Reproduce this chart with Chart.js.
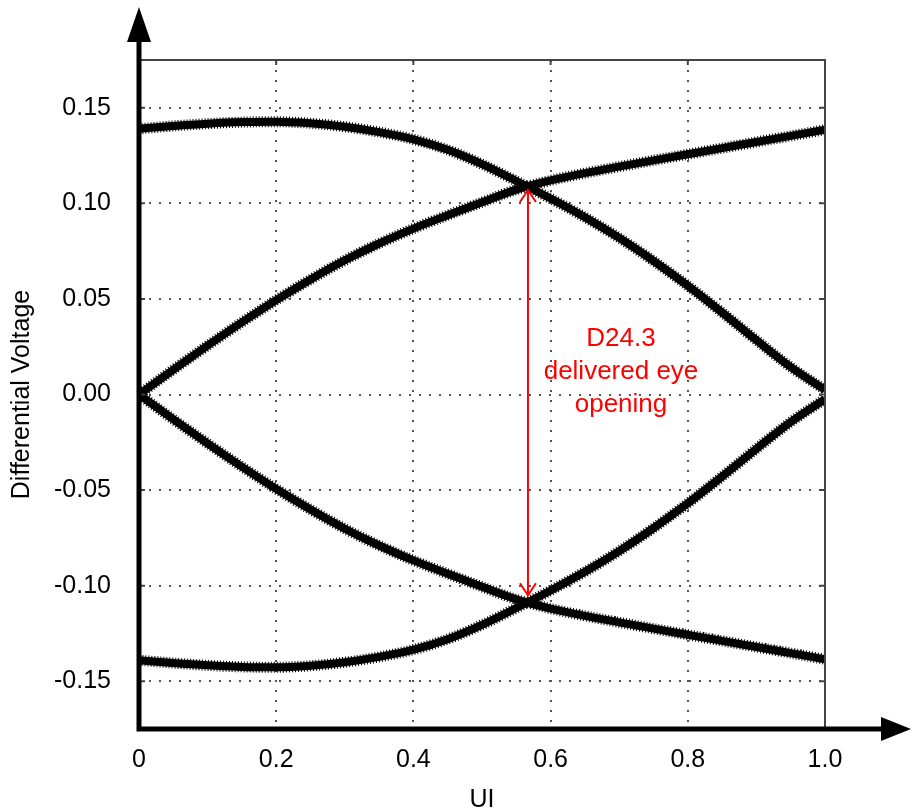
<!DOCTYPE html>
<html>
<head>
<meta charset="utf-8">
<script src="https://cdn.jsdelivr.net/npm/chart.js@4.4.1/dist/chart.umd.min.js"></script>
<style>
  html, body { margin: 0; padding: 0; background: #fff; }
  canvas { display: block; }
</style>
</head>
<body>
<canvas id="eyeChart" width="911" height="808"></canvas>
<script>
// sample positions along the unit interval
const uiSteps = [0, 0.05, 0.1, 0.15, 0.2, 0.25, 0.3, 0.35, 0.4, 0.45, 0.5,
                 0.55, 0.6, 0.65, 0.7, 0.75, 0.8, 0.85, 0.9, 0.95, 1.0];

// high level falling to zero
const traceHighFall = [0.1390, 0.1405, 0.1417, 0.1425, 0.1427, 0.1419, 0.1401, 0.1373, 0.1335, 0.1280, 0.1205,
                       0.1117, 0.1025, 0.0927, 0.0819, 0.0699, 0.0569, 0.0429, 0.0284, 0.0144, 0.0024];
// zero rising to high level
const traceZeroRise = [0.0000, 0.0130, 0.0256, 0.0378, 0.0494, 0.0602, 0.0702, 0.0790, 0.0868, 0.0938, 0.1006,
                       0.1072, 0.1120, 0.1158, 0.1192, 0.1225, 0.1257, 0.1289, 0.1321, 0.1353, 0.1385];
// zero falling to low level
const traceZeroFall = [0.0000, -0.0130, -0.0256, -0.0378, -0.0494, -0.0602, -0.0702, -0.0790, -0.0868, -0.0938, -0.1006,
                       -0.1072, -0.1120, -0.1158, -0.1192, -0.1225, -0.1257, -0.1289, -0.1321, -0.1353, -0.1385];
// low level rising to zero
const traceLowRise = [-0.1390, -0.1405, -0.1417, -0.1425, -0.1427, -0.1419, -0.1401, -0.1373, -0.1335, -0.1280, -0.1205,
                      -0.1117, -0.1025, -0.0927, -0.0819, -0.0699, -0.0569, -0.0429, -0.0284, -0.0144, -0.0024];

const xTicks = [0, 0.2, 0.4, 0.6, 0.8, 1.0];
const xTickLabels = ['0', '0.2', '0.4', '0.6', '0.8', '1.0'];
const yTicks = [-0.15, -0.10, -0.05, 0, 0.05, 0.10, 0.15];
const yTickLabels = ['-0.15', '-0.10', '-0.05', '0.00', '0.05', '0.10', '0.15'];

// eye opening marker
const eyeUI = 0.567;
const eyeTop = 0.107;
const eyeBottom = -0.105;
const eyeLabel = ['D24.3', 'delivered eye', 'opening'];

const FONT = 'Arial, "Liberation Sans", sans-serif';

function toPoints(values) {
    return values.map((v, i) => ({ x: uiSteps[i], y: v }));
}

// solid core of a trace
function traceDataset(values) {
    return {
        data: toPoints(values),
        borderColor: '#000',
        borderWidth: 8,
        pointRadius: 0,
        cubicInterpolationMode: 'monotone',
        fill: false,
        order: 1
    };
}

// stippled fringe around the same trace, gives the noisy edge
function fringeDataset(values) {
    return {
        data: toPoints(values),
        borderColor: '#000',
        borderWidth: 11,
        borderDash: [1, 2],
        pointRadius: 0,
        cubicInterpolationMode: 'monotone',
        fill: false,
        order: 2
    };
}

// frame, arrowed axes and eye annotation
const decorations = {
    id: 'decorations',
    afterDatasetsDraw(chart) {
        const { ctx, chartArea: a, scales: { x, y } } = chart;
        ctx.save();

        // thin frame on top and right
        ctx.strokeStyle = '#444';
        ctx.lineWidth = 2;
        ctx.beginPath();
        ctx.moveTo(a.left, a.top);
        ctx.lineTo(a.right, a.top);
        ctx.lineTo(a.right, a.bottom);
        ctx.stroke();

        // small inner ticks
        ctx.beginPath();
        xTicks.forEach(v => {
            const px = x.getPixelForValue(v);
            ctx.moveTo(px, a.top); ctx.lineTo(px, a.top + 5);
        });
        yTicks.forEach(v => {
            const py = y.getPixelForValue(v);
            ctx.moveTo(a.right, py); ctx.lineTo(a.right - 6, py);
            ctx.moveTo(a.left, py); ctx.lineTo(a.left + 6, py);
        });
        ctx.stroke();

        // thick axes with arrow heads
        ctx.strokeStyle = '#000';
        ctx.fillStyle = '#000';
        ctx.lineWidth = 5;
        ctx.beginPath();
        ctx.moveTo(a.left, a.bottom + 2.5);
        ctx.lineTo(a.left, 40);
        ctx.moveTo(a.left - 2.5, a.bottom);
        ctx.lineTo(884, a.bottom);
        ctx.stroke();

        ctx.beginPath();
        ctx.moveTo(a.left, 7);
        ctx.lineTo(a.left - 12, 42);
        ctx.lineTo(a.left + 12, 42);
        ctx.closePath();
        ctx.fill();

        ctx.beginPath();
        ctx.moveTo(911, a.bottom);
        ctx.lineTo(881, a.bottom - 12);
        ctx.lineTo(881, a.bottom + 12);
        ctx.closePath();
        ctx.fill();

        // double-headed eye opening arrow
        const ax = x.getPixelForValue(eyeUI);
        const y1 = y.getPixelForValue(eyeTop);
        const y2 = y.getPixelForValue(eyeBottom);
        ctx.strokeStyle = '#ff0000';
        ctx.lineWidth = 2;
        ctx.beginPath();
        ctx.moveTo(ax, y1);
        ctx.lineTo(ax, y2);
        ctx.moveTo(ax - 8, y1 + 12); ctx.lineTo(ax, y1); ctx.lineTo(ax + 8, y1 + 12);
        ctx.moveTo(ax - 8, y2 - 12); ctx.lineTo(ax, y2); ctx.lineTo(ax + 8, y2 - 12);
        ctx.stroke();

        ctx.fillStyle = '#ff0000';
        ctx.font = '26px ' + FONT;
        ctx.textAlign = 'center';
        ctx.textBaseline = 'middle';
        eyeLabel.forEach((line, i) => {
            ctx.fillText(line, 621, 339 + i * 33);
        });

        ctx.restore();
    }
};

new Chart(document.getElementById('eyeChart'), {
    type: 'line',
    data: {
        datasets: [
            traceDataset(traceHighFall),
            traceDataset(traceZeroRise),
            traceDataset(traceZeroFall),
            traceDataset(traceLowRise),
            fringeDataset(traceHighFall),
            fringeDataset(traceZeroRise),
            fringeDataset(traceZeroFall),
            fringeDataset(traceLowRise)
        ]
    },
    options: {
        responsive: false,
        animation: false,
        layout: { padding: { top: 60, right: 86, left: 0, bottom: 0 } },
        plugins: { legend: { display: false }, tooltip: { enabled: false } },
        scales: {
            x: {
                type: 'linear',
                min: 0,
                max: 1,
                afterBuildTicks: scale => { scale.ticks = xTicks.map(v => ({ value: v })); },
                afterFit: scale => { scale.height = 79; },
                ticks: {
                    padding: 16,
                    color: '#000',
                    font: { family: FONT, size: 25 },
                    callback: (v) => xTickLabels[xTicks.indexOf(v)]
                },
                grid: { color: '#555', lineWidth: 2, drawTicks: false },
                border: { display: false, dash: [2, 8] },
                title: {
                    display: true,
                    text: 'UI',
                    color: '#000',
                    font: { family: FONT, size: 25 },
                    padding: { top: 0, bottom: -7 }
                }
            },
            y: {
                type: 'linear',
                min: -0.175,
                max: 0.175,
                afterBuildTicks: scale => { scale.ticks = yTicks.map(v => ({ value: v })); },
                afterFit: scale => { scale.width = 139; },
                ticks: {
                    padding: 28,
                    color: '#000',
                    font: { family: FONT, size: 25 },
                    callback: (v) => yTickLabels[yTicks.findIndex(t => Math.abs(t - v) < 1e-9)]
                },
                grid: { color: '#555', lineWidth: 2, drawTicks: false },
                border: { display: false, dash: [2, 8] },
                title: {
                    display: true,
                    text: 'Differential Voltage',
                    color: '#000',
                    font: { family: FONT, size: 25 },
                    padding: { top: 7, bottom: 0 }
                }
            }
        }
    },
    plugins: [decorations]
});
</script>
</body>
</html>
